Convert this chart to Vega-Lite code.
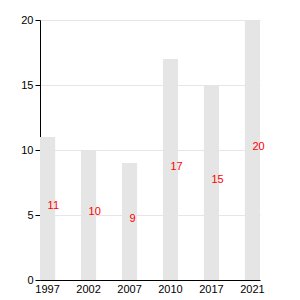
{
  "$schema": "https://vega.github.io/schema/vega-lite/v6.json",
  "width": 220,
  "height": 260,
  "autosize": "none",
  "padding": {"left": 40, "top": 20, "right": 40, "bottom": 20},
  "config": {
    "font": "Liberation Sans",
    "view": {"stroke": null},
    "axis": {"labelColor": "#000", "labelFontSize": 11, "domainColor": "#000", "tickColor": "#000", "gridColor": "#e6e6e6", "title": null}
  },
  "data": {"values": [
    {"year": "1997", "value": 11},
    {"year": "2002", "value": 10},
    {"year": "2007", "value": 9},
    {"year": "2010", "value": 17},
    {"year": "2017", "value": 15},
    {"year": "2021", "value": 20}
  ]},
  "encoding": {
    "x": {"field": "year", "type": "ordinal", "scale": {"paddingInner": 0.63, "paddingOuter": 0}, "axis": {"labelAngle": 0, "ticks": false, "labelPadding": 3, "grid": false}}
  },
  "layer": [
    {"mark": {"type": "bar", "color": "#e5e5e5"},
     "encoding": {"y": {"field": "value", "type": "quantitative", "scale": {"domain": [0, 20]}, "axis": {"values": [0, 5, 10, 15, 20], "tickSize": 5, "grid": true}}}},
    {"transform": [{"calculate": "datum.value / 2", "as": "half"}],
     "mark": {"type": "text", "color": "red", "align": "left", "baseline": "alphabetic", "fontSize": 11},
     "encoding": {"y": {"field": "half", "type": "quantitative"}, "text": {"field": "value", "type": "quantitative"}}}
  ]
}
